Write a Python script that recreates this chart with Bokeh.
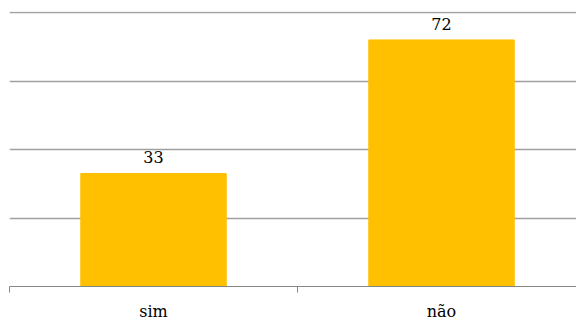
from bokeh.plotting import figure
from bokeh.models import ColumnDataSource, Range1d, FixedTicker
from bokeh.core.properties import value
from bokeh.embed import file_html
from bokeh.resources import INLINE

categories = ["sim", "não"]
counts = [33, 72]

SERIF = "DejaVu Serif"

xpos = [0.5, 1.5]
src = ColumnDataSource(dict(x=xpos, top=counts, lab=[str(c) for c in counts]))

p = figure(width=576, height=323, output_backend="svg", toolbar_location=None,
           x_range=Range1d(0, 567 / 288), y_range=Range1d(0, 80.3),
           min_border_left=9, min_border_right=0, min_border_top=11, min_border_bottom=35)
p.outline_line_color = None
p.yaxis.visible = False
p.xgrid.visible = False
p.ygrid.ticker = FixedTicker(ticks=[20, 40, 60, 80])
p.ygrid.grid_line_color = "#a0a0a0"
p.ygrid.grid_line_width = 1.5

# bars with their values printed above
p.vbar(x="x", top="top", width=0.505, source=src, color="#FFC000")
p.text(x="x", y="top", text="lab", source=src, text_align="center",
       text_baseline="bottom", y_offset=-10, text_font=value(SERIF),
       text_font_size="16px", text_color="#000000")

# category axis: labels at bar centres, separator ticks between categories
ax = p.xaxis[0]
ax.ticker = FixedTicker(ticks=xpos, minor_ticks=[0, 1, 2])
ax.major_label_overrides = {xpos[i]: categories[i] for i in range(len(categories))}
ax.major_tick_line_color = None
ax.minor_tick_in = 0
ax.minor_tick_out = 6
ax.minor_tick_line_color = "#868686"
ax.axis_line_color = "#868686"
ax.axis_line_width = 1
ax.major_label_text_font = SERIF
ax.major_label_text_font_size = "16px"
ax.major_label_text_color = "#000000"
ax.major_label_standoff = 9

open("out.html", "w").write(file_html(p, INLINE))
